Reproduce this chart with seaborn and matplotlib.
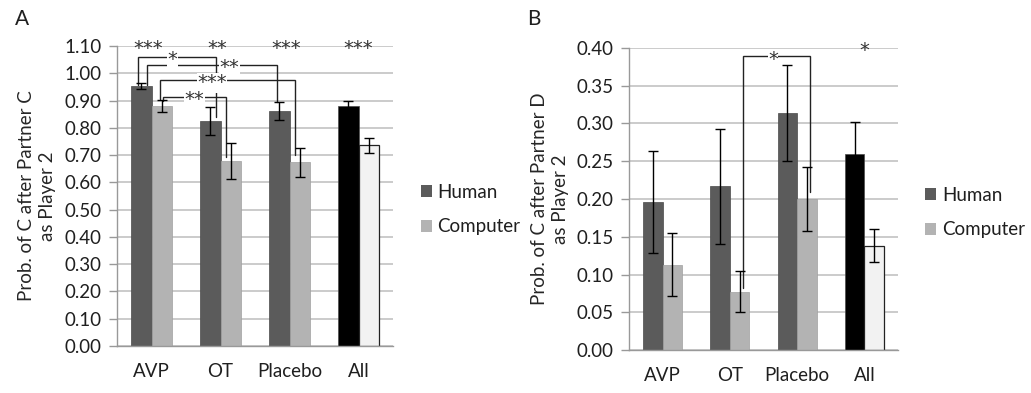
import numpy as np
import pandas as pd
import matplotlib
matplotlib.use("Agg")
import matplotlib.pyplot as plt
from matplotlib.patches import Patch
import seaborn as sns

# ==========================================
# Data
# ==========================================
conditions = ["AVP", "OT", "Placebo", "All"]
partners = ["Human", "Computer"]

# Panel A: Prob. of C after partner C
a_human = [0.954, 0.825, 0.861, 0.879]
a_human_err = [0.010, 0.050, 0.033, 0.020]
a_comp = [0.879, 0.677, 0.673, 0.736]
a_comp_err = [0.022, 0.066, 0.053, 0.028]

# Panel B: Prob. of C after partner D
b_human = [0.196, 0.217, 0.314, 0.260]
b_human_err = [0.067, 0.076, 0.064, 0.042]
b_comp = [0.113, 0.077, 0.200, 0.138]
b_comp_err = [0.042, 0.027, 0.042, 0.022]

# significance stars above each condition (label per condition, "" = none)
a_top_stars = ["***", "**", "***", "***"]
b_top_stars = ["", "", "", "*"]

# brackets: (x_left, x_right, y_top, y_left_end, y_right_end, x_text, label)
a_brackets = [
    (-0.20, 0.94, 1.060, 0.957, 0.840, 0.30, "*"),
    (-0.07, 1.82, 1.030, 0.957, 0.895, 1.13, "**"),
    (0.13, 2.08, 0.975, 0.905, 0.700, 0.88, "***"),
    (0.16, 1.08, 0.913, 0.900, 0.693, 0.62, "**"),
]
b_brackets = [
    (1.20, 2.19, 0.389, 0.082, 0.209, 1.64, "*"),
]

COL_HUMAN = "#5b5b5b"
COL_COMP = "#b3b3b3"
COL_ALL_HUMAN = "#000000"
COL_ALL_COMP = "#f2f2f2"
GRID = "#bdbdbd"
FS = 13.5

sns.set_theme(style="white")
plt.rcParams["font.family"] = ["Lato", "DejaVu Sans"]
plt.rcParams["text.color"] = "#1f1f1f"
plt.rcParams["xtick.color"] = "#1f1f1f"
plt.rcParams["ytick.color"] = "#1f1f1f"


def star(ax, x, y, s, boxed=False):
    # asterisks sit high in the font: shift down so they centre just above y
    kw = dict(bbox=dict(facecolor="white", edgecolor="none", pad=0.3)) if boxed else {}
    ax.annotate(s, (x, y), xytext=(0, -6), textcoords="offset points",
                ha="center", va="baseline", fontsize=14, color="#333333",
                family="DejaVu Sans", annotation_clip=False, zorder=6, **kw)


def make_panel(ax, human, human_err, comp, comp_err, ylim, step,
               ylabel, top_stars, brackets):
    df = pd.DataFrame({
        "condition": conditions * 2,
        "partner": ["Human"] * 4 + ["Computer"] * 4,
        "value": human + comp,
    })
    sns.barplot(data=df, x="condition", y="value", hue="partner",
                hue_order=partners,
                palette={"Human": COL_HUMAN, "Computer": COL_COMP},
                width=0.58, errorbar=None, legend=False, ax=ax,
                saturation=1, linewidth=0.5, edgecolor="#4a4a4a")

    # "All" bars use black / white
    hum_bars, comp_bars = ax.containers[0], ax.containers[1]
    hum_bars[3].set_facecolor(COL_ALL_HUMAN)
    comp_bars[3].set_facecolor(COL_ALL_COMP)
    comp_bars[3].set_edgecolor("#222222")
    comp_bars[3].set_linewidth(0.9)
    for b in comp_bars[:3]:
        b.set_edgecolor("#a0a0a0")

    # error bars
    for bars, vals, errs in [(hum_bars, human, human_err), (comp_bars, comp, comp_err)]:
        for b, v, e in zip(bars, vals, errs):
            xc = b.get_x() + b.get_width() / 2
            ax.errorbar(xc, v, yerr=e, fmt="none", ecolor="black",
                        elinewidth=1, capsize=3.5, capthick=1, zorder=5)

    ax.set_xlim(-0.5, 3.5)
    ax.set_ylim(*ylim)
    ticks = np.arange(ylim[0], ylim[1] + step / 2, step)
    ax.set_yticks(ticks)
    ax.set_yticklabels([f"{t:.2f}" for t in ticks], fontsize=FS)
    ax.yaxis.grid(True, color=GRID, linewidth=1.1)
    ax.set_axisbelow(True)
    ax.tick_params(axis="y", direction="out", length=6, width=1,
                   color="#999999", pad=5, left=True)
    ax.tick_params(axis="x", length=0, pad=12, labelsize=FS)
    ax.set_xlabel("")
    ax.set_ylabel(ylabel, fontsize=FS, linespacing=1.3)
    ax.yaxis.set_label_coords(-0.222, 0.5)
    for s in ["top", "right"]:
        ax.spines[s].set_visible(False)
    for s in ["left", "bottom"]:
        ax.spines[s].set_color("#999999")
        ax.spines[s].set_linewidth(1)

    # stars over the conditions
    for i, s in enumerate(top_stars):
        if s:
            star(ax, i - 0.05 if i < 3 else i, ylim[1], s)

    # comparison brackets
    for xl, xr, yt, yl, yr, xt, lab in brackets:
        ax.plot([xl, xl, xr, xr], [yl, yt, yt, yr], color="#222222",
                linewidth=1, zorder=4, solid_joinstyle="miter")
        star(ax, xt, yt, lab, boxed=True)

    handles = [Patch(facecolor=COL_HUMAN, edgecolor="none"),
               Patch(facecolor=COL_COMP, edgecolor="none")]
    ax.legend(handles, partners, loc="center left",
              bbox_to_anchor=(1.10, 0.455), frameon=False, fontsize=FS,
              handlelength=0.6, handleheight=0.6, handletextpad=0.3,
              labelspacing=0.95, borderaxespad=0, borderpad=0)


fig = plt.figure(figsize=(10.31, 3.93), dpi=100)
ax_a = fig.add_axes([117 / 1031, 1 - 346 / 393, 276 / 1031, 300 / 393])
ax_b = fig.add_axes([629 / 1031, 1 - 350 / 393, 269 / 1031, 302 / 393])

make_panel(ax_a, a_human, a_human_err, a_comp, a_comp_err, (0.0, 1.10), 0.10,
           "Prob. of C after Partner C\nas Player 2", a_top_stars, a_brackets)
make_panel(ax_b, b_human, b_human_err, b_comp, b_comp_err, (0.0, 0.40), 0.05,
           "Prob. of C after Partner D\nas Player 2", b_top_stars, b_brackets)

fig.text(15 / 1031, 1 - 19 / 393, "A", fontsize=15, va="center", ha="left")
fig.text(527 / 1031, 1 - 19 / 393, "B", fontsize=15, va="center", ha="left")

fig.savefig("out.png", dpi=100, facecolor="white")
